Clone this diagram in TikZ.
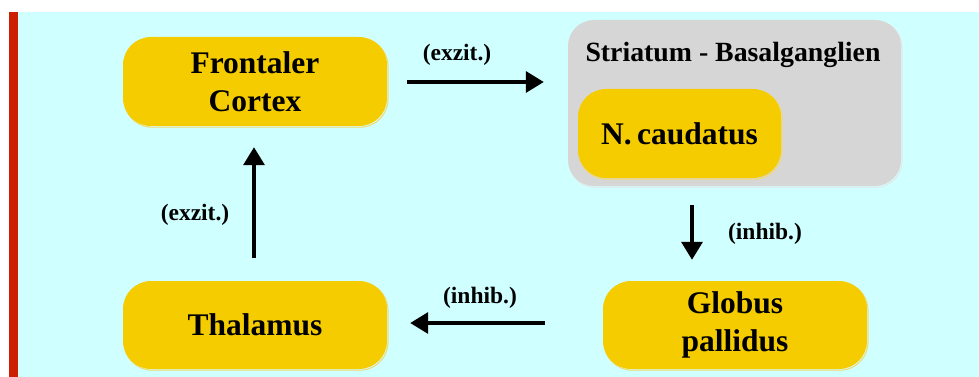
\documentclass[tikz,border=0pt]{standalone}
\usepackage{fontspec}
\setmainfont{Liberation Serif}
\usetikzlibrary{arrows.meta,calc}

\definecolor{bgcyan}{HTML}{D0FFFF}
\definecolor{barred}{HTML}{CC2000}
\definecolor{boxyellow}{HTML}{F5CC00}
\definecolor{edgeyellow}{HTML}{F2DA70}
\definecolor{groupgray}{HTML}{D6D6D6}
\definecolor{edgegray}{HTML}{E6E6E6}

\tikzset{
  region/.style={fill=boxyellow, rounded corners=28pt, inner sep=0pt,
    align=center, font=\bfseries\fontsize{31.5}{38}\selectfont,
    preaction={draw=edgeyellow, line width=1pt, transform canvas={shift={(1pt,-1.2pt)}}}},
  group/.style={fill=groupgray, rounded corners=26pt, inner sep=0pt,
    preaction={draw=edgegray, line width=1pt, transform canvas={shift={(1pt,-1.2pt)}}}},
  pathway/.style={line width=3.5pt, -{Triangle[length=18pt,width=21pt]}},
  tag/.style={font=\bfseries\fontsize{23.5}{28}\selectfont, inner sep=0pt}
}

\begin{document}
\begin{tikzpicture}[x=1pt,y=-1pt]
  % canvas, background panel and left accent bar
  \fill[white] (0,0) rectangle (979,377);
  \useasboundingbox (0,0) rectangle (979,377);
  \fill[bgcyan] (18,12) rectangle (979,377);
  \fill[barred] (9,12) rectangle (18,377);

  % striatum group with the caudate nucleus inside
  \node[group, minimum width=333pt, minimum height=166pt] (st) at (734.5,103) {};
  \node[font=\bfseries\fontsize{27.8}{32}\selectfont, inner sep=0pt] (sttitle) at (733,55) {Striatum - Basalganglien};
  \node[region, minimum width=203pt, minimum height=89pt] (nc) at (679.5,133.5) {N.\,caudatus};

  % loop stations
  \node[region, minimum width=264pt, minimum height=89pt] (fc) at (255,81.5) {Frontaler\\Cortex};
  \node[region, minimum width=264pt, minimum height=88pt] (th) at (255,325) {Thalamus};
  \node[region, minimum width=264pt, minimum height=88pt] (gp) at (735,325) {Globus\\pallidus};

  % connections of the loop
  \draw[pathway, shorten <=20pt, shorten >=24pt] (fc.east |- 0,82) -- (st.west |- 0,82);
  \draw[pathway, shorten <=19pt, shorten >=21pt] ([xshift=-43pt]gp.north |- st.south) -- ([xshift=-43pt]gp.north);
  \draw[pathway, shorten <=58pt, shorten >=23pt] ([yshift=2pt]gp.west) -- ([yshift=2pt]th.east);
  \draw[pathway, shorten <=23pt, shorten >=21pt] ([xshift=-1pt]th.north) -- ([xshift=-1pt]fc.south);

  % connection labels
  \node[tag] (l1) at (457,55) {(exzit.)};
  \node[tag] (l2) at (765,234) {(inhib.)};
  \node[tag] (l3) at (480,298) {(inhib.)};
  \node[tag] (l4) at (195,215) {(exzit.)};
\end{tikzpicture}
\end{document}
